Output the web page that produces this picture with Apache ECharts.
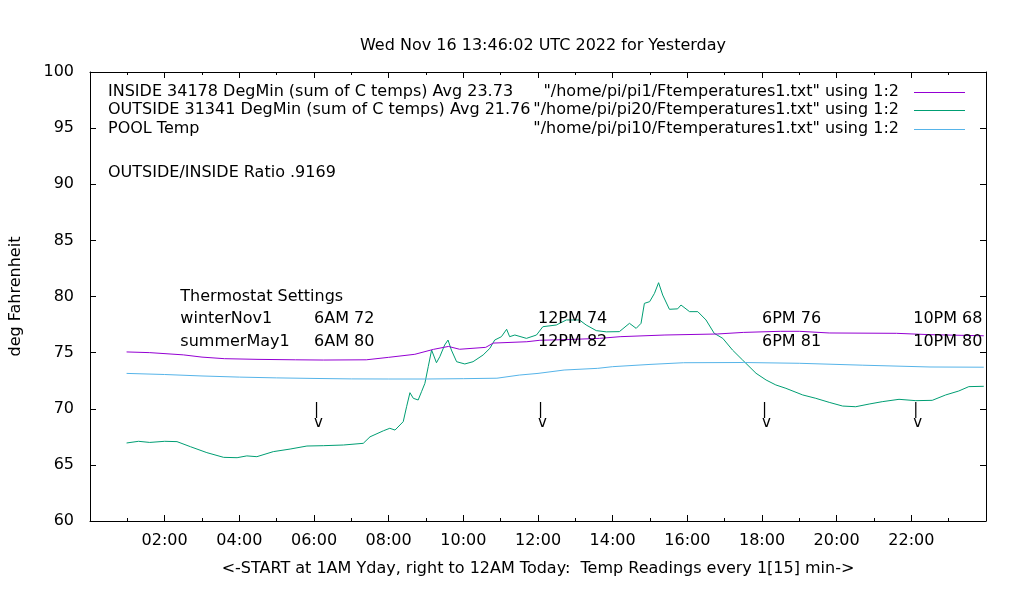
<!DOCTYPE html>
<html><head><meta charset="utf-8">
<script src="https://cdn.jsdelivr.net/npm/echarts@6/dist/echarts.min.js"></script>
<style>html,body{margin:0;padding:0;background:#fff}#c{width:1020px;height:600px}</style>
</head><body><div id="c"></div>
<script>
// ---- data (hours since midnight, deg F) ----
var titleText = 'Wed Nov 16 13:46:02 UTC 2022 for Yesterday';
var xAxisName = '<-START at 1AM Yday, right to 12AM Today:  Temp Readings every 1[15] min->';
var yAxisName = 'deg Fahrenheit';
var seriesNames = ['"/home/pi/pi1/Ftemperatures1.txt" using 1:2', '"/home/pi/pi20/Ftemperatures1.txt" using 1:2', '"/home/pi/pi10/Ftemperatures1.txt" using 1:2'];
var keyLabels = ['INSIDE 34178 DegMin (sum of C temps) Avg 23.73', 'OUTSIDE 31341 DegMin (sum of C temps) Avg 21.76', 'POOL Temp'];
var ratioText = 'OUTSIDE/INSIDE Ratio .9169';

var insideHours = [0.98,1.6,2.5,3.0,3.6,4.5,5.5,6.25,7.4,8.0,8.7,9.2,9.6,9.9,10.6,10.8,11.7,12.05,12.85,13.65,14.2,15.4,16.8,17.5,18.5,19.0,19.8,21.6,22.5,23.94];
var insideTemps = [75.06,75.0,74.8,74.6,74.46,74.4,74.36,74.34,74.36,74.58,74.85,75.29,75.55,75.3,75.47,75.85,75.97,76.1,76.17,76.27,76.42,76.57,76.66,76.8,76.9,76.9,76.75,76.72,76.6,76.5];

var outsideHours = [0.98,1.3,1.6,2.0,2.33,2.69,3.13,3.58,3.94,4.2,4.47,4.91,5.36,5.81,6.25,6.79,7.32,7.5,7.86,8.03,8.17,8.39,8.48,8.57,8.66,8.79,8.88,8.97,9.06,9.15,9.2,9.28,9.37,9.5,9.59,9.68,9.82,10.04,10.26,10.53,10.71,10.84,11.02,11.16,11.24,11.38,11.69,11.96,12.13,12.49,12.76,13.11,13.29,13.56,13.83,14.18,14.45,14.63,14.76,14.85,14.99,15.12,15.23,15.34,15.52,15.74,15.83,16.06,16.28,16.5,16.72,16.95,17.21,17.48,17.84,18.11,18.37,18.64,19.09,19.44,19.8,20.16,20.51,20.87,21.22,21.67,22.12,22.56,22.92,23.27,23.54,23.94];
var outsideTemps = [66.95,67.1,67.0,67.1,67.07,66.62,66.09,65.67,65.64,65.8,65.73,66.18,66.41,66.68,66.71,66.77,66.92,67.5,68.04,68.26,68.1,68.85,70.18,71.43,70.93,70.78,71.52,72.26,73.75,75.23,75.1,74.1,74.64,75.68,76.12,75.23,74.19,73.99,74.19,74.79,75.38,76.12,76.42,77.08,76.42,76.57,76.27,76.57,77.31,77.46,77.91,77.91,77.46,76.96,76.85,76.87,77.61,77.16,77.61,79.39,79.54,80.28,81.23,80.13,78.86,78.9,79.24,78.65,78.65,77.91,76.72,76.27,75.23,74.34,73.16,72.56,72.12,71.82,71.23,70.93,70.57,70.24,70.18,70.42,70.63,70.84,70.72,70.75,71.23,71.58,71.97,72.0];

var poolHours = [0.98,2.0,3.0,4.0,5.0,6.0,7.0,8.0,9.0,10.0,10.9,11.5,12.0,12.7,13.6,14.0,15.0,15.9,17.5,19.0,20.7,22.5,23.94];
var poolTemps = [73.15,73.05,72.92,72.82,72.75,72.7,72.66,72.65,72.65,72.68,72.72,73.0,73.15,73.45,73.6,73.75,73.95,74.1,74.12,74.05,73.88,73.72,73.7];

// thermostat annotations: [hour, degF, text]
var noteHours = [2.42, 2.42, 2.42, 6.0, 6.0, 12.0, 12.0, 18.0, 18.0, 22.05, 22.05];
var noteTemps = [80, 78, 76, 78, 76, 78, 76, 78, 76, 78, 76];
var noteTexts = ['Thermostat Settings', 'winterNov1', 'summerMay1', '6AM 72', '6AM 80', '12PM 74', '12PM 82', '6PM 76', '6PM 81', '10PM 68', '10PM 80'];
var markerHours = [6.0, 12.0, 18.0, 22.05];
var markerTemp = 69.3;

var xRange = [0, 24, 2];
var yTicks = [60, 100, 5];

var colors = ['#9400d3', '#009e73', '#56b4e9'];
var FONT = 'DejaVu Sans';
var FONTCSS = '16px "DejaVu Sans"';

function pairs(h, v) { return h.map(function (x, i) { return [x, v[i]]; }); }
var notes = noteHours.map(function (h, i) { return [h, noteTemps[i], noteTexts[i]]; });
var markers = markerHours.map(function (h) { return [h, markerTemp, '|\nv']; });

var chart = echarts.init(document.getElementById('c'), null, {renderer: 'canvas'});
var axisCommon = {
  axisLine: {show: true, onZero: false, lineStyle: {color: '#000', width: 1}},
  axisTick: {show: true, inside: true, length: 6, lineStyle: {color: '#000'}},
  minorTick: {show: true, splitNumber: 2, length: 3, lineStyle: {color: '#000'}},
  splitLine: {show: false}
};
function xa(extra) {
  return Object.assign({type: 'value', min: xRange[0], max: xRange[1], interval: xRange[2]}, JSON.parse(JSON.stringify(axisCommon)), extra);
}
function ya(extra) {
  var o = Object.assign({type: 'value', min: yTicks[0], max: yTicks[1], interval: yTicks[2]}, JSON.parse(JSON.stringify(axisCommon)), extra);
  o.minorTick = {show: false};
  return o;
}

// key (gnuplot style): right-aligned titles with line samples, plus left labels
var keyRowsY = [92, 110, 129];
var graphics = [];
keyLabels.forEach(function (t, i) {
  graphics.push({type: 'text', x: 108, y: keyRowsY[i], style: {text: t, font: FONTCSS, fill: '#000', verticalAlign: 'middle', align: 'left'}});
});
seriesNames.forEach(function (t, i) {
  graphics.push({type: 'text', x: 899, y: keyRowsY[i], style: {text: t, font: FONTCSS, fill: '#000', verticalAlign: 'middle', align: 'right'}});
  graphics.push({type: 'line', shape: {x1: 914, y1: keyRowsY[i] + 0.5, x2: 965, y2: keyRowsY[i] + 0.5}, style: {stroke: colors[i], lineWidth: 1}});
});
graphics.push({type: 'text', x: 108, y: 173, style: {text: ratioText, font: FONTCSS, fill: '#000', verticalAlign: 'middle', align: 'left'}});

var labelStyle = {show: true, position: 'right', distance: 0, color: '#000', opacity: 1, textBorderWidth: 0,
  fontFamily: FONT, fontSize: 16, formatter: function (p) { return p.value[2]; }};

var option = {
  animation: false,
  backgroundColor: '#fff',
  textStyle: {fontFamily: FONT},
  title: {text: titleText, left: 538, textAlign: 'center', top: 33,
    textStyle: {fontFamily: FONT, fontSize: 16, fontWeight: 'normal', color: '#000'}},
  grid: {left: 90, right: 34, top: 72, bottom: 79, containLabel: false},
  xAxis: [
    xa({position: 'bottom',
      name: xAxisName, nameLocation: 'middle', nameGap: 40,
      nameTextStyle: {fontFamily: FONT, fontSize: 16, color: '#000'},
      axisLabel: {color: '#000', fontFamily: FONT, fontSize: 16, margin: 12,
        formatter: function (v) { if (v <= 0 || v >= 24) return ''; return (v < 10 ? '0' : '') + v + ':00'; }}}),
    xa({position: 'top', axisLabel: {show: false}})
  ],
  yAxis: [
    ya({position: 'left',
      name: yAxisName, nameLocation: 'middle', nameGap: 66, nameRotate: 90,
      nameTextStyle: {fontFamily: FONT, fontSize: 16, color: '#000'},
      axisLabel: {color: '#000', fontFamily: FONT, fontSize: 16, margin: 16}}),
    ya({position: 'right', axisLabel: {show: false}})
  ],
  graphic: graphics,
  series: [
    {name: seriesNames[0], type: 'line', data: pairs(insideHours, insideTemps), showSymbol: false, symbol: 'none',
      lineStyle: {color: colors[0], width: 1}, itemStyle: {color: colors[0]}, z: 3},
    {name: seriesNames[1], type: 'line', data: pairs(outsideHours, outsideTemps), showSymbol: false, symbol: 'none',
      lineStyle: {color: colors[1], width: 1}, itemStyle: {color: colors[1]}, z: 2},
    {name: seriesNames[2], type: 'line', data: pairs(poolHours, poolTemps), showSymbol: false, symbol: 'none',
      lineStyle: {color: colors[2], width: 1}, itemStyle: {color: colors[2]}, z: 2},
    {name: 'notes', type: 'scatter', data: notes, symbolSize: 0, silent: true, z: 5,
      itemStyle: {opacity: 1}, label: labelStyle},
    {name: 'markers', type: 'scatter', data: markers, symbolSize: 0, silent: true, z: 5,
      itemStyle: {opacity: 1},
      label: Object.assign({}, labelStyle, {fontSize: 15, lineHeight: 13})}
  ]
};
chart.setOption(option);
</script></body></html>
